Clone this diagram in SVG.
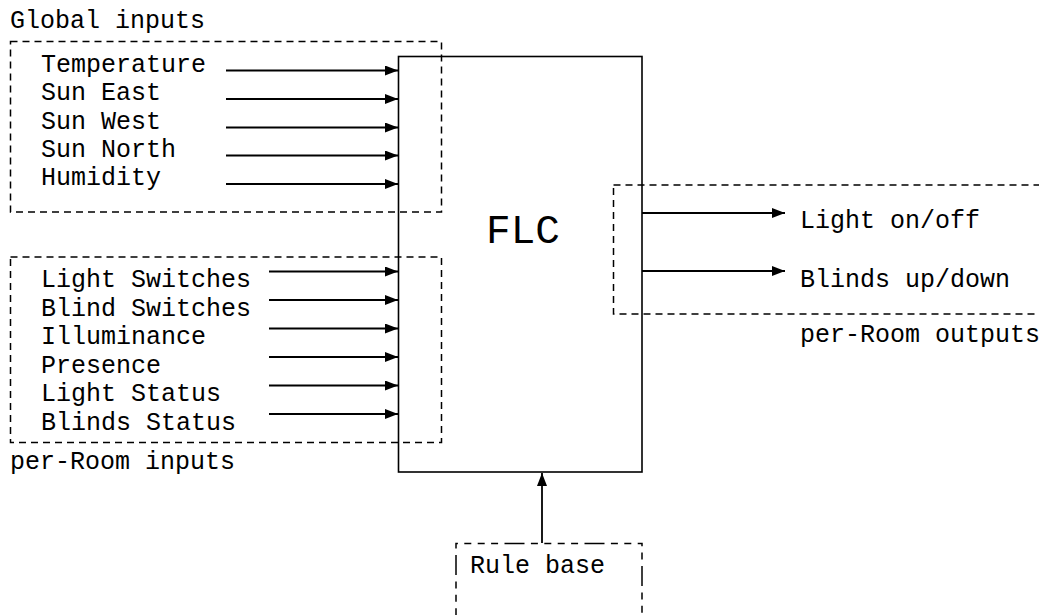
<svg xmlns="http://www.w3.org/2000/svg" width="1039" height="615" viewBox="0 0 1039 615">
<style>
text{font-family:"Liberation Mono","Courier New",monospace;font-size:25px;fill:#000}
.dash{fill:none;stroke:#000;stroke-width:1.5;stroke-dasharray:7,5}
.box{fill:#fff;stroke:#000;stroke-width:1.6}
.arr{stroke:#000;stroke-width:1.8;fill:none;marker-end:url(#ah)}
</style>
<defs>
<marker id="ah" markerWidth="13" markerHeight="10" refX="13" refY="5" orient="auto" markerUnits="userSpaceOnUse">
<path d="M0,0 L13,5 L0,10 Z" fill="#000"/>
</marker>
</defs>
<g id="flc">
<rect class="box" x="398.5" y="56.5" width="243.5" height="415.5"/>
<text x="523" y="243" font-size="41" style="font-size:41px" text-anchor="middle">FLC</text>
</g>
<g id="global-inputs">
<rect class="dash" x="10.5" y="41.5" width="431" height="170.5"/>
<text x="10" y="28">Global inputs</text>
<text x="41" y="72">Temperature</text>
<text x="41" y="100">Sun East</text>
<text x="41" y="128.5">Sun West</text>
<text x="41" y="157">Sun North</text>
<text x="41" y="185">Humidity</text>
</g>
<g id="room-inputs">
<rect class="dash" x="10.5" y="257" width="431" height="185.5"/>
<text x="10" y="469">per-Room inputs</text>
<text x="41" y="287">Light Switches</text>
<text x="41" y="315.5">Blind Switches</text>
<text x="41" y="344">Illuminance</text>
<text x="41" y="372.5">Presence</text>
<text x="41" y="401">Light Status</text>
<text x="41" y="429.5">Blinds Status</text>
</g>
<g id="room-outputs">
<rect class="dash" x="613.5" y="185" width="440" height="129"/>
<text x="800" y="228">Light on/off</text>
<text x="800" y="287">Blinds up/down</text>
<text x="800" y="342">per-Room outputs</text>
</g>
<g id="rule-base">
<path d="M456,615 L456,543.5 L642,543.5 L642,615" fill="none" stroke="#000" stroke-width="1.5" stroke-dasharray="20,6.4,7,6.4,7,6.4,7,6.4,7,6.4" stroke-dashoffset="40"/>
<text x="470" y="573">Rule base</text>
</g>
<g id="connectors">
<line class="arr" x1="226" y1="70.5" x2="398" y2="70.5"/>
<line class="arr" x1="226" y1="99" x2="398" y2="99"/>
<line class="arr" x1="226" y1="127.5" x2="398" y2="127.5"/>
<line class="arr" x1="226" y1="155.5" x2="398" y2="155.5"/>
<line class="arr" x1="226" y1="184" x2="398" y2="184"/>
<line class="arr" x1="269" y1="271.5" x2="398" y2="271.5"/>
<line class="arr" x1="269" y1="300" x2="398" y2="300"/>
<line class="arr" x1="269" y1="328.5" x2="398" y2="328.5"/>
<line class="arr" x1="269" y1="357" x2="398" y2="357"/>
<line class="arr" x1="269" y1="385.5" x2="398" y2="385.5"/>
<line class="arr" x1="269" y1="414" x2="398" y2="414"/>
<line class="arr" x1="642" y1="213" x2="785" y2="213"/>
<line class="arr" x1="642" y1="271" x2="785" y2="271"/>
<line class="arr" x1="542" y1="543" x2="542" y2="473"/>
</g>
</svg>
